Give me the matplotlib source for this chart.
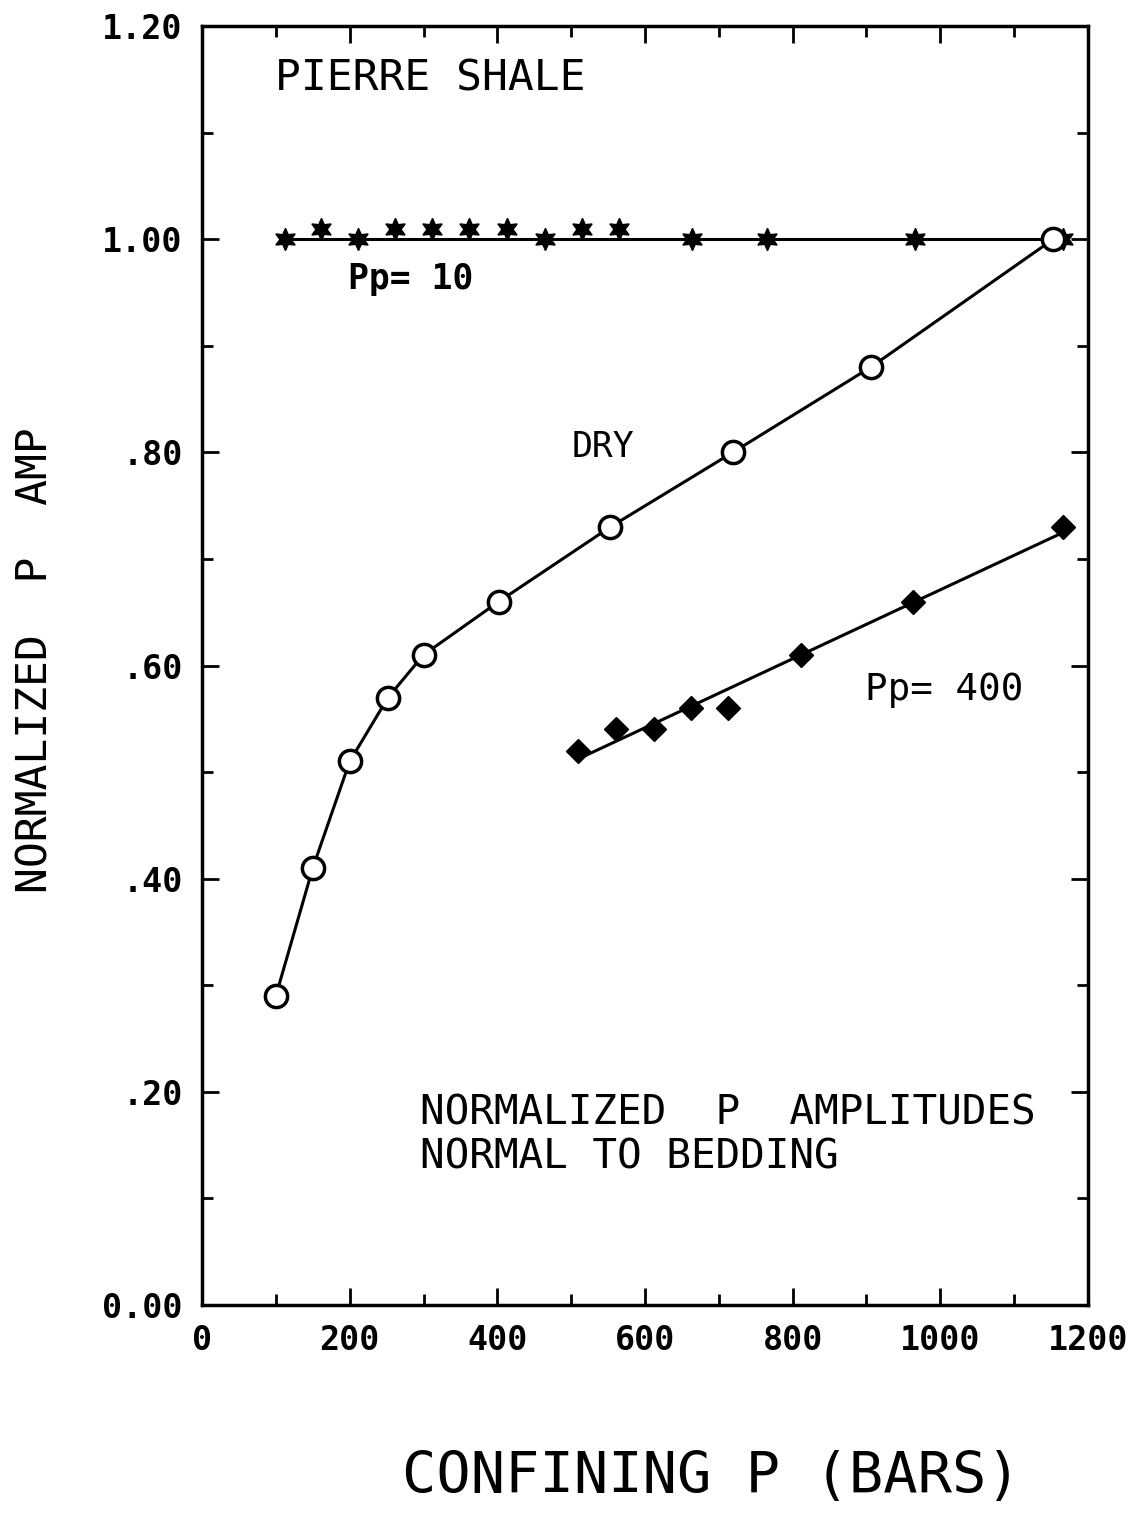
import numpy as np
import matplotlib.pyplot as plt
from matplotlib.ticker import MultipleLocator

# Pp = 10 bars (stars)
pp10_conf = [112, 161, 211, 261, 312, 362, 413, 465, 515, 565, 664, 765, 966, 1166]
pp10_amp = [1.00, 1.01, 1.00, 1.01, 1.01, 1.01, 1.01, 1.00, 1.01, 1.01, 1.00, 1.00, 1.00, 1.00]

# dry (open circles)
dry_conf = [100, 150, 200, 252, 300, 402, 553, 719, 906, 1153]
dry_amp = [0.29, 0.41, 0.51, 0.57, 0.61, 0.66, 0.73, 0.80, 0.88, 1.00]

# Pp = 400 bars (diamonds)
pp400_conf = [509, 561, 612, 662, 712, 811, 963, 1166]
pp400_amp = [0.52, 0.54, 0.54, 0.56, 0.56, 0.61, 0.66, 0.73]

yticks = [0.0, 0.2, 0.4, 0.6, 0.8, 1.0, 1.2]
ytick_labels = ['0.00', '.20', '.40', '.60', '.80', '1.00', '1.20']

plt.rcParams['font.family'] = 'DejaVu Sans Mono'
fig = plt.figure(figsize=(11.42, 15.31), dpi=100)
ax = fig.add_axes([0.1769, 0.1476, 0.7758, 0.8354])

lw = 2.2
star = (6, 1, 0)

# Pp=10: flat line at 1.00
ax.plot([min(pp10_conf), max(pp10_conf)], [1.0, 1.0], color='black', lw=lw)
ax.plot(pp10_conf, pp10_amp, ls='none', marker=star, ms=16, color='black')

# dry curve
ax.plot(dry_conf, dry_amp, color='black', lw=lw, marker='o', ms=16,
        mfc='white', mec='black', mew=2.5)

# Pp=400: straight-line fit
coef = np.polyfit(pp400_conf, pp400_amp, 1)
xs = np.array([min(pp400_conf), max(pp400_conf)])
ax.plot(xs, np.polyval(coef, xs), color='black', lw=lw)
ax.plot(pp400_conf, pp400_amp, ls='none', marker='D', ms=12.5, color='black')

ax.set_xlim(0, 1200)
ax.set_ylim(0, 1.2)
ax.xaxis.set_major_locator(MultipleLocator(200))
ax.xaxis.set_minor_locator(MultipleLocator(100))
ax.set_yticks(yticks)
ax.set_yticklabels(ytick_labels)
ax.yaxis.set_minor_locator(MultipleLocator(0.1))
ax.tick_params(which='both', direction='in', top=True, right=True, width=2,
               labelsize=24, pad=14)
ax.tick_params(which='major', length=12)
ax.tick_params(which='minor', length=8)
for lab in ax.get_xticklabels() + ax.get_yticklabels():
    lab.set_fontweight('bold')
for s in ax.spines.values():
    s.set_linewidth(2.5)

ax.text(99, 1.151, 'PIERRE SHALE', fontsize=31, va='center')
ax.text(198, 0.963, 'Pp= 10', fontsize=25, va='center', fontweight='bold')
ax.text(501, 0.805, 'DRY', fontsize=25, va='center')
ax.text(898, 0.577, 'Pp= 400', fontsize=27, va='center')
ax.text(295, 0.18, 'NORMALIZED  P  AMPLITUDES', fontsize=29.5, va='center')
ax.text(295, 0.138, 'NORMAL TO BEDDING', fontsize=29.5, va='center')

fig.text(0.031, 0.569, 'NORMALIZED  P  AMP', rotation=90, fontsize=31,
         ha='center', va='center')
fig.text(0.623, 0.035, 'CONFINING P (BARS)', fontsize=41,
         ha='center', va='center')

fig.savefig('out.png', dpi=100)
